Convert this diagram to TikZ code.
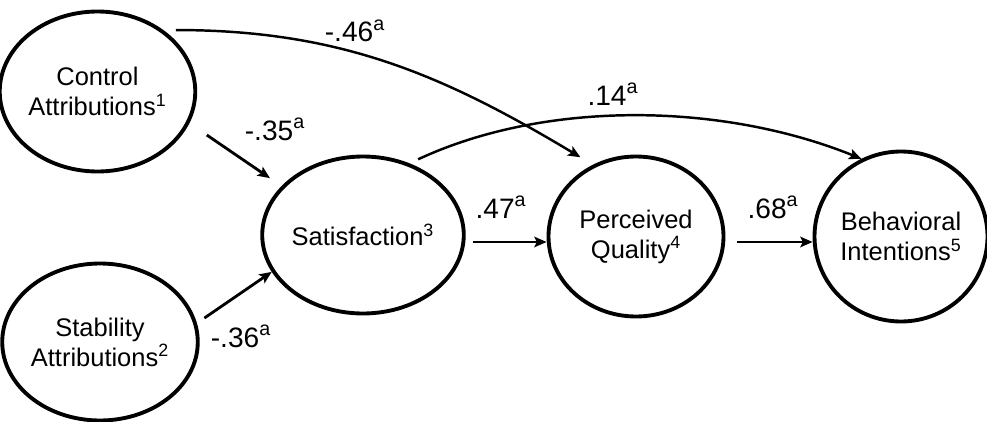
\documentclass[tikz,border=0pt]{standalone}
\usepackage{fontspec}
\setmainfont{Liberation Sans}
\usepackage{tikz}
\usetikzlibrary{shapes.geometric, arrows.meta}

\begin{document}
\begin{tikzpicture}[
    font=\fontsize{14.5}{17}\selectfont,
    latent/.style={ellipse, draw, line width=2.2pt, inner sep=0pt, align=center},
    link/.style={-{Stealth[length=7pt, width=6pt, inset=1.5pt]}, line width=1.6pt},
    coef/.style={anchor=base, font=\fontsize{16}{19}\selectfont}]
  \useasboundingbox (0,0) rectangle (19.74,8.42);

  % constructs
  \node[latent, minimum width=3.56cm, minimum height=3.2cm] (ctrl) at (1.95,6.59)
    {Control\\Attributions\textsuperscript{1}};
  \node[latent, minimum width=3.62cm, minimum height=3.14cm] (stab) at (2.0,1.58)
    {Stability\\Attributions\textsuperscript{2}};
  \node[latent, minimum width=3.54cm, minimum height=3.14cm] (sat) at (7.26,3.72)
    {Satisfaction\textsuperscript{3}};
  \node[latent, minimum width=3.5cm, minimum height=3.2cm] (qual) at (12.72,3.69)
    {Perceived\\Quality\textsuperscript{4}};
  \node[latent, minimum width=3.46cm, minimum height=3.4cm] (intent) at (18.02,3.69)
    {Behavioral\\Intentions\textsuperscript{5}};

  % paths
  \draw[link, shorten <=0.42cm, shorten >=0.28cm] (ctrl.-19) -- (sat.149);
  \draw[link, shorten <=0.18cm] (stab.11) -- (sat.-158);
  \draw[link, shorten <=0.14cm] ([yshift=-0.14cm]sat.east) -- ([yshift=-0.14cm]sat.east -| qual.west);
  \draw[link, shorten <=0.24cm] ([yshift=-0.11cm]qual.east) -- ([yshift=-0.11cm]qual.east -| intent.west);
  \draw[link, line width=1.4pt, shorten <=0.25cm, shorten >=0.29cm] (ctrl.43) to[out=0, in=149] (qual.121);
  \draw[link, line width=1.4pt, shorten <=0.19cm] (sat.57) to[out=25, in=158, looseness=0.85] (intent.117);

  % coefficients
  \node[coef] (b46) at (7.1,7.58) {-.46\textsuperscript{a}};
  \node[coef] (b35) at (5.5,5.62) {-.35\textsuperscript{a}};
  \node[coef] (b36) at (4.82,1.48) {-.36\textsuperscript{a}};
  \node[coef] (b47) at (10.02,4.06) {.47\textsuperscript{a}};
  \node[coef] (b68) at (15.46,4.06) {.68\textsuperscript{a}};
  \node[coef] (b14) at (12.26,6.32) {.14\textsuperscript{a}};
\end{tikzpicture}
\end{document}
